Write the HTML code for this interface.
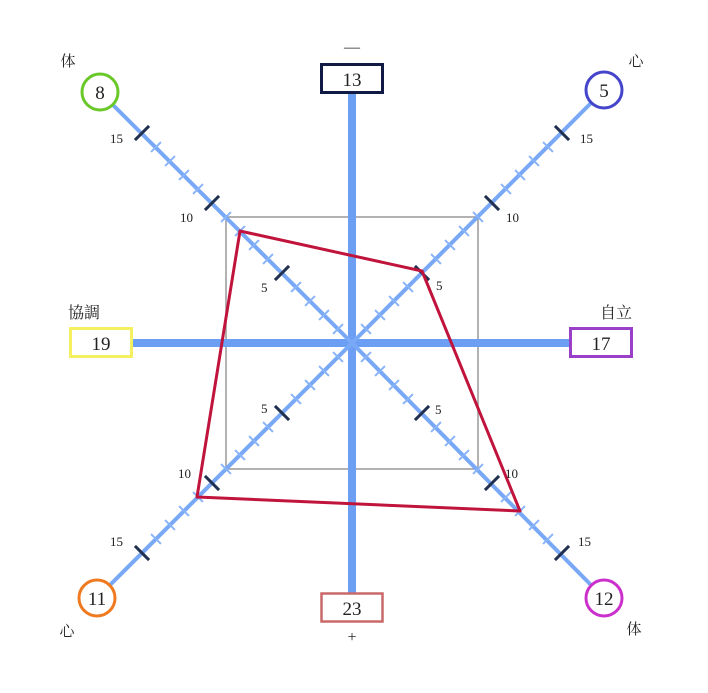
<!DOCTYPE html>
<html><head><meta charset="utf-8"><style>
html,body{margin:0;padding:0;background:#fff;}
svg text{font-family:"Liberation Serif","Noto Serif CJK SC",serif;fill:#222;}
</style></head><body>
<svg width="708" height="688" viewBox="0 0 708 688" xmlns="http://www.w3.org/2000/svg">
<rect x="226" y="217" width="252" height="252" fill="none" stroke="#999" stroke-width="1.5"/>
<g stroke="#6c9ff4" stroke-width="8">
<line x1="352" y1="92" x2="352" y2="594"/>
<line x1="132" y1="343" x2="571" y2="343"/>
</g>
<g stroke="#78a8f6" stroke-width="4">
<line x1="352" y1="343" x2="113" y2="105"/>
<line x1="352" y1="343" x2="591" y2="103"/>
<line x1="352" y1="343" x2="110" y2="585"/>
<line x1="352" y1="343" x2="591" y2="585"/>
</g>
<g id="ticks"></g>
<polygon points="240,231 422,271 520,511 197,497" fill="none" stroke="#c0143c" stroke-width="3" stroke-linejoin="round"/>
<g font-size="13">
<text x="110" y="143">15</text><text x="180" y="222">10</text><text x="261" y="292">5</text>
<text x="580" y="143">15</text><text x="506" y="222">10</text><text x="436" y="290">5</text>
<text x="261" y="413">5</text><text x="178" y="478">10</text><text x="110" y="546">15</text>
<text x="435" y="414">5</text><text x="505" y="478">10</text><text x="578" y="546">15</text>
</g>
<rect x="321.5" y="64.5" width="61" height="28" fill="#fff" stroke="#111a44" stroke-width="3"/>
<text x="352" y="86" font-size="19" text-anchor="middle">13</text>
<text x="352" y="52" font-size="16" text-anchor="middle">—</text>
<rect x="321.5" y="593.5" width="61" height="28" fill="#fff" stroke="#c86868" stroke-width="2.5"/>
<text x="352" y="615" font-size="19" text-anchor="middle">23</text>
<text x="352" y="642" font-size="16" text-anchor="middle">+</text>
<rect x="70.5" y="328.5" width="61" height="28" fill="#fff" stroke="#f4f060" stroke-width="3"/>
<text x="101" y="350" font-size="19" text-anchor="middle">19</text>
<text x="84" y="318" font-size="16" text-anchor="middle">協調</text>
<rect x="570.5" y="328.5" width="61" height="28" fill="#fff" stroke="#9a40c8" stroke-width="3"/>
<text x="601" y="350" font-size="19" text-anchor="middle">17</text>
<text x="616" y="318" font-size="16" text-anchor="middle">自立</text>
<circle cx="100" cy="92" r="18" fill="#fff" stroke="#6ac82a" stroke-width="3"/>
<text x="100" y="99" font-size="19" text-anchor="middle">8</text>
<text x="68" y="66" font-size="15" text-anchor="middle">体</text>
<circle cx="604" cy="90" r="18" fill="#fff" stroke="#4545cc" stroke-width="3"/>
<text x="604" y="97" font-size="19" text-anchor="middle">5</text>
<text x="636" y="66" font-size="15" text-anchor="middle">心</text>
<circle cx="97" cy="598" r="18" fill="#fff" stroke="#f07a20" stroke-width="3"/>
<text x="97" y="605" font-size="19" text-anchor="middle">11</text>
<text x="67" y="636" font-size="15" text-anchor="middle">心</text>
<circle cx="604" cy="598" r="18" fill="#fff" stroke="#cc30cc" stroke-width="3"/>
<text x="604" y="605" font-size="19" text-anchor="middle">12</text>
<text x="634" y="634" font-size="15" text-anchor="middle">体</text>
</svg>
<script>
var g=document.getElementById('ticks'),ns='http://www.w3.org/2000/svg';
var dirs=[[-1,-1],[1,-1],[-1,1],[1,1]];
dirs.forEach(function(d){
 for(var i=1;i<=15;i++){
  var cx=352+d[0]*14*i, cy=343+d[1]*14*i;
  var major=(i%5==0), h=major?10:7;
  var px=-d[1]/Math.SQRT2, py=d[0]/Math.SQRT2;
  var l=document.createElementNS(ns,'line');
  l.setAttribute('x1',cx+px*h);l.setAttribute('y1',cy+py*h);
  l.setAttribute('x2',cx-px*h);l.setAttribute('y2',cy-py*h);
  l.setAttribute('stroke',major?'#223050':'#8ab4f8');
  l.setAttribute('stroke-width',major?3:2);
  g.appendChild(l);
 }
});
</script>
</body></html>
